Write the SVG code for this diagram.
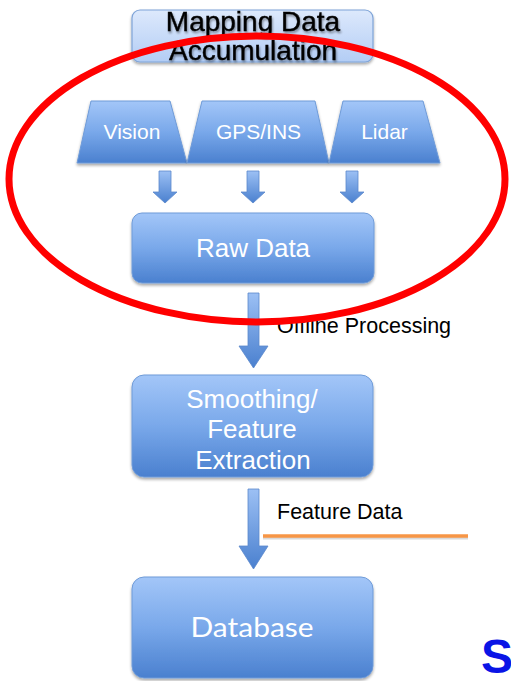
<svg xmlns="http://www.w3.org/2000/svg" width="511" height="681" viewBox="0 0 511 681">
  <defs>
    <linearGradient id="boxGrad" x1="0" y1="0" x2="0" y2="1">
      <stop offset="0" stop-color="#a3c6f8"/>
      <stop offset="0.5" stop-color="#79a8ea"/>
      <stop offset="1" stop-color="#4a80cf"/>
    </linearGradient>
    <linearGradient id="titleGrad" x1="0" y1="0" x2="0" y2="1">
      <stop offset="0" stop-color="#dde9fc"/>
      <stop offset="1" stop-color="#b3cdf5"/>
    </linearGradient>
    <linearGradient id="arrowGrad" x1="0" y1="0" x2="0" y2="1">
      <stop offset="0" stop-color="#9cc0f4"/>
      <stop offset="1" stop-color="#4a80cf"/>
    </linearGradient>
    <filter id="shadow" x="-10%" y="-10%" width="120%" height="130%">
      <feGaussianBlur in="SourceAlpha" stdDeviation="1.5"/>
      <feOffset dx="0" dy="2" result="b"/>
      <feComponentTransfer><feFuncA type="linear" slope="0.35"/></feComponentTransfer>
      <feMerge><feMergeNode/><feMergeNode in="SourceGraphic"/></feMerge>
    </filter>
    <filter id="textShadow" x="-5%" y="-20%" width="110%" height="150%">
      <feGaussianBlur in="SourceAlpha" stdDeviation="1"/>
      <feOffset dx="1" dy="1.5"/>
      <feComponentTransfer><feFuncA type="linear" slope="0.4"/></feComponentTransfer>
      <feMerge><feMergeNode/><feMergeNode in="SourceGraphic"/></feMerge>
    </filter>
  </defs>
  <style>
    .box { fill: url(#boxGrad); stroke: #6f9bd8; stroke-width: 1; filter: url(#shadow); }
    .lbl { font-family: "Liberation Sans", Arial, sans-serif; fill: #ffffff; text-anchor: middle; }
    .src { font-size: 21px; }
    .big { font-size: 26px; }
    .title { font-family: "Liberation Sans", Arial, sans-serif; font-size: 28px; fill: #000000; stroke: #000000; stroke-width: 0.4; text-anchor: middle; filter: url(#textShadow); }
    .arrow { fill: url(#arrowGrad); stroke: #5a88cc; stroke-width: 0.8; }
    .note { font-family: "Liberation Sans", Arial, sans-serif; font-size: 21.5px; fill: #000000; }
  </style>

  <rect width="511" height="681" fill="#ffffff"/>

  <!-- title box -->
  <g id="title">
    <rect x="132" y="10" width="241" height="52" rx="8" fill="url(#titleGrad)" stroke="#7fa4d8" stroke-width="1.2" filter="url(#shadow)"/>
    <text class="title" x="253" y="31">Mapping Data</text>
    <text class="title" x="253" y="60">Accumulation</text>
  </g>

  <!-- sensor sources -->
  <g id="vision">
    <polygon class="box" points="91,101 170,101 187,163 77,163"/>
    <text class="lbl src" x="132" y="139">Vision</text>
  </g>
  <g id="gpsins">
    <polygon class="box" points="202,101 315,101 329,163 187,163"/>
    <text class="lbl src" x="258.5" y="139">GPS/INS</text>
  </g>
  <g id="lidar">
    <polygon class="box" points="343,101 423,101 440,163 329,163"/>
    <text class="lbl src" x="384.5" y="139">Lidar</text>
  </g>

  <g id="rawdata">
    <rect class="box" x="132" y="213" width="242" height="70" rx="10"/>
    <text class="lbl big" x="253" y="257">Raw Data</text>
  </g>

  <g id="smoothing">
    <rect class="box" x="132" y="375" width="241" height="102" rx="12"/>
    <text class="lbl big" x="252" y="408">Smoothing/</text>
    <text class="lbl big" x="252" y="438">Feature</text>
    <text class="lbl big" x="253" y="469">Extraction</text>
  </g>

  <g id="database">
    <rect class="box" x="132" y="577" width="241" height="101" rx="12"/>
    <text class="lbl" x="252" y="637" font-size="27" textLength="123" lengthAdjust="spacingAndGlyphs" style="font-family:Lato, 'Open Sans', sans-serif">Database</text>
  </g>

  <!-- connectors -->
  <g id="connectors">
    <polygon class="arrow" points="159,171 171,171 171,192 177,192 165,203 153,192 159,192"/>
    <polygon class="arrow" points="247,171 259,171 259,192 265,192 253,203 241,192 247,192"/>
    <polygon class="arrow" points="346,171 358,171 358,192 364,192 352,203 340,192 346,192"/>
    <polygon class="arrow" points="248,293 259,293 259,346 268,346 253.5,368 239,346 248,346"/>
    <polygon class="arrow" points="248,489 259,489 259,546 268,546 253.5,569 239,546 248,546"/>
  </g>

  <g id="labels">
    <text class="note" x="277" y="333">Offline Processing</text>
    <text class="note" x="277" y="519">Feature Data</text>
    <line x1="263" y1="538" x2="468" y2="538" stroke="#d9d9d9" stroke-width="3"/>
    <line x1="263" y1="536" x2="468" y2="536" stroke="#f79646" stroke-width="3.5"/>
  </g>

  <!-- highlight ring -->
  <ellipse cx="257" cy="179" rx="248" ry="143" fill="none" stroke="#ff0000" stroke-width="7"/>

  <text x="481" y="673" font-family="Liberation Sans, Arial, sans-serif" font-size="48" font-weight="bold" fill="#0a14e6">S</text>
</svg>
